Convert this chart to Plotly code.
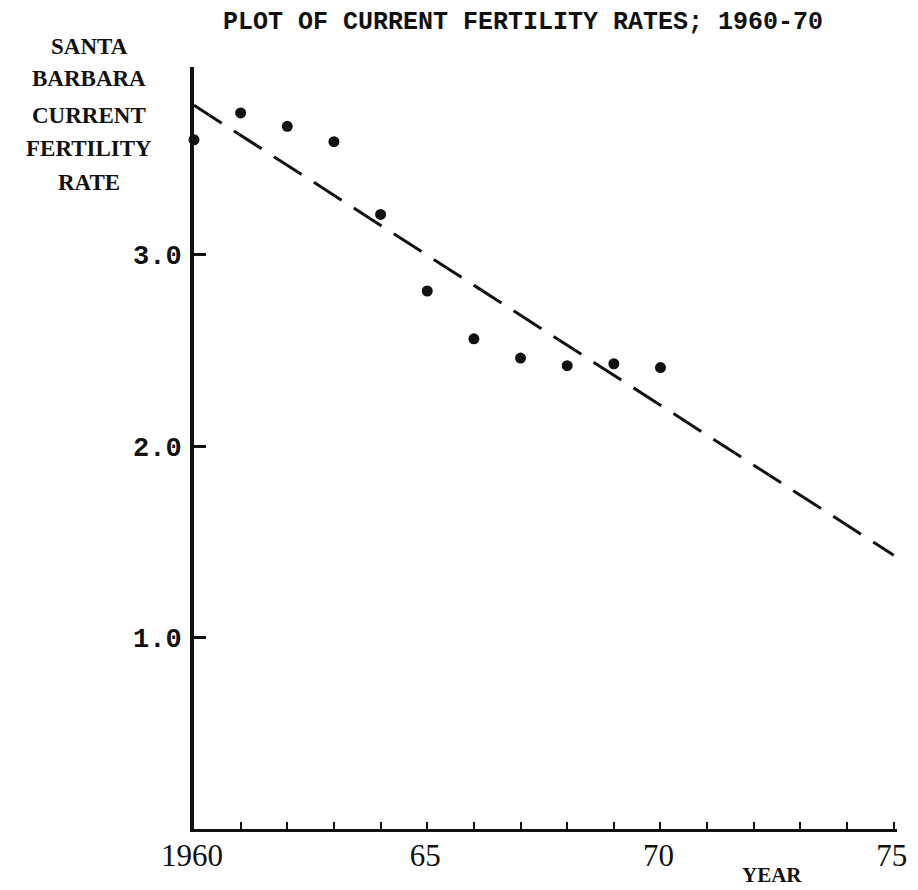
import plotly.graph_objects as go

# Data
years = [1960, 1961, 1962, 1963, 1964, 1965, 1966, 1967, 1968, 1969, 1970]
fertility = [3.60, 3.74, 3.67, 3.59, 3.21, 2.81, 2.56, 2.46, 2.42, 2.43, 2.41]
trend_years = [1960, 1975]
trend_values = [3.78, 1.43]

x_tickvals = [1960, 1965, 1970, 1975]
x_ticktext = ["1960", "65", "70", "75"]
y_tickvals = [1.0, 2.0, 3.0]
y_ticktext = ["1.0", "2.0", "3.0"]
y_title_lines = ["SANTA", "BARBARA", "CURRENT", "FERTILITY", "RATE"]

INK = "#111111"
PAGE_MARGIN = 8          # default body margin of the html page
W, H = 918 - PAGE_MARGIN, 890 - PAGE_MARGIN
L, R, T, B = 186, 11, 59, 61
PW, PH = W - L - R, H - T - B

fig = go.Figure()
fig.add_trace(go.Scatter(
    x=trend_years, y=trend_values, mode="lines",
    line=dict(color=INK, width=3, dash="33px,14.5px"),
    hoverinfo="skip", showlegend=False,
))
fig.add_trace(go.Scatter(
    x=years, y=fertility, mode="markers",
    marker=dict(color=INK, size=11),
    cliponaxis=False, showlegend=False,
))

def px_to_paper(px, py):
    return (px - L) / PW, (H - B - py) / PH

annotations = []
line_centers = [39, 71, 107, 140, 174]
for txt, cy in zip(y_title_lines, line_centers):
    ax, ay = px_to_paper(80, cy)
    annotations.append(dict(
        text=txt, x=ax, y=ay, xref="paper", yref="paper",
        xanchor="center", yanchor="middle", showarrow=False,
        font=dict(family="Liberation Serif", size=23, color=INK, weight="bold"),
    ))
ax, ay = px_to_paper(772, 867)
annotations.append(dict(
    text="YEAR", x=ax, y=ay, xref="paper", yref="paper",
    xanchor="center", yanchor="middle", showarrow=False, borderpad=0,
    font=dict(family="Liberation Serif", size=21, color=INK, weight="bold"),
))

fig.update_layout(
    width=W, height=H,
    margin=dict(l=L, r=R, t=T, b=B, pad=0),
    paper_bgcolor="white", plot_bgcolor="white",
    title=dict(
        text="PLOT OF CURRENT FERTILITY RATES; 1960-70",
        x=515 / W, xanchor="center", y=1 - 12 / H, yanchor="middle",
        font=dict(family="Liberation Mono", size=25, color=INK, weight="bold"),
    ),
    annotations=annotations,
    showlegend=False,
)
fig.update_xaxes(
    range=[1960, 1975.07], showgrid=False, zeroline=False,
    showline=True, linecolor=INK, linewidth=3,
    tickvals=x_tickvals, ticktext=x_ticktext,
    ticks="inside", ticklen=7, tickwidth=2, tickcolor=INK,
    ticklabelstandoff=-3, ticklabelshift=-2, ticklabeloverflow="allow",
    tickfont=dict(family="Liberation Serif", size=31, color=INK),
    minor=dict(tick0=1960, dtick=1, ticks="inside", ticklen=7, tickwidth=2, tickcolor=INK),
)
fig.update_yaxes(
    range=[0, 3.98], showgrid=False, zeroline=False,
    showline=True, linecolor=INK, linewidth=4,
    tickvals=y_tickvals, ticktext=y_ticktext,
    ticks="inside", ticklen=12, tickwidth=3, tickcolor=INK,
    ticklabelstandoff=3,
    tickfont=dict(family="Liberation Mono", size=27, color=INK, weight="bold"),
)

fig.write_html("out.html")
